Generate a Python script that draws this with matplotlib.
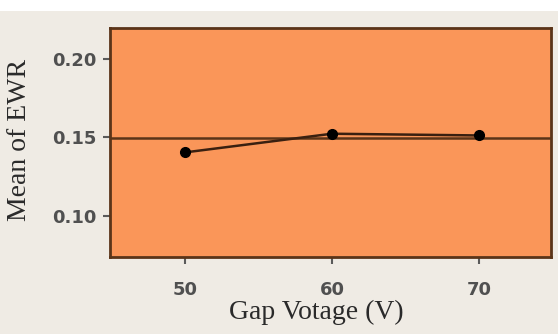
import matplotlib
matplotlib.use('Agg')
import matplotlib.pyplot as plt
from matplotlib.patches import Rectangle

# main effects data
gap_voltage = [50, 60, 70]
mean_ewr = [0.1405, 0.1524, 0.1513]
grand_mean = 0.1497
y_ticks = [0.10, 0.15, 0.20]
y_tick_labels = ['0.10', '0.15', '0.20']

fig = plt.figure(figsize=(5.58, 3.34), dpi=100, facecolor='#efebe4')
# white strip at the top of the screenshot
fig.patches.append(Rectangle((0, 0.968), 1, 0.032, transform=fig.transFigure,
                             facecolor='white', edgecolor='none', zorder=0))

ax = fig.add_axes([0.1971, 0.2305, 0.7903, 0.6856])
ax.set_facecolor('#fa9659')

ax.axhline(grand_mean, color='#5a3418', lw=1.8, zorder=2)
ax.plot(gap_voltage, mean_ewr, color='#3a2010', lw=1.8, marker='o',
        markersize=7, markerfacecolor='black', markeredgecolor='black', zorder=3)

ax.set_xlim(44.9, 74.9)
ax.set_ylim(0.0739, 0.2197)
ax.set_xticks(gap_voltage)
ax.set_yticks(y_ticks)
ax.set_yticklabels(y_tick_labels)

for s in ax.spines.values():
    s.set_color('#5a3418')
    s.set_linewidth(2)

ax.tick_params(axis='x', direction='out', length=5, width=1.5, color='#5a5a5a',
               pad=12, labelsize=13, labelcolor='#505050')
ax.tick_params(axis='y', direction='out', length=5, width=1.5, color='#5a5a5a',
               pad=5, labelsize=13, labelcolor='#505050')
for lab in ax.get_xticklabels() + ax.get_yticklabels():
    lab.set_fontweight('bold')

ax.set_xlabel('Gap Votage (V)', family='Liberation Serif', fontsize=20, color='#2a2a2a')
ax.xaxis.set_label_coords(0.469, -0.185)
ax.set_ylabel('Mean of EWR', family='Liberation Serif', fontsize=20, color='#2a2a2a')
ax.yaxis.set_label_coords(-0.177, 0.511)

fig.savefig('out.png', dpi=100, facecolor=fig.get_facecolor())
